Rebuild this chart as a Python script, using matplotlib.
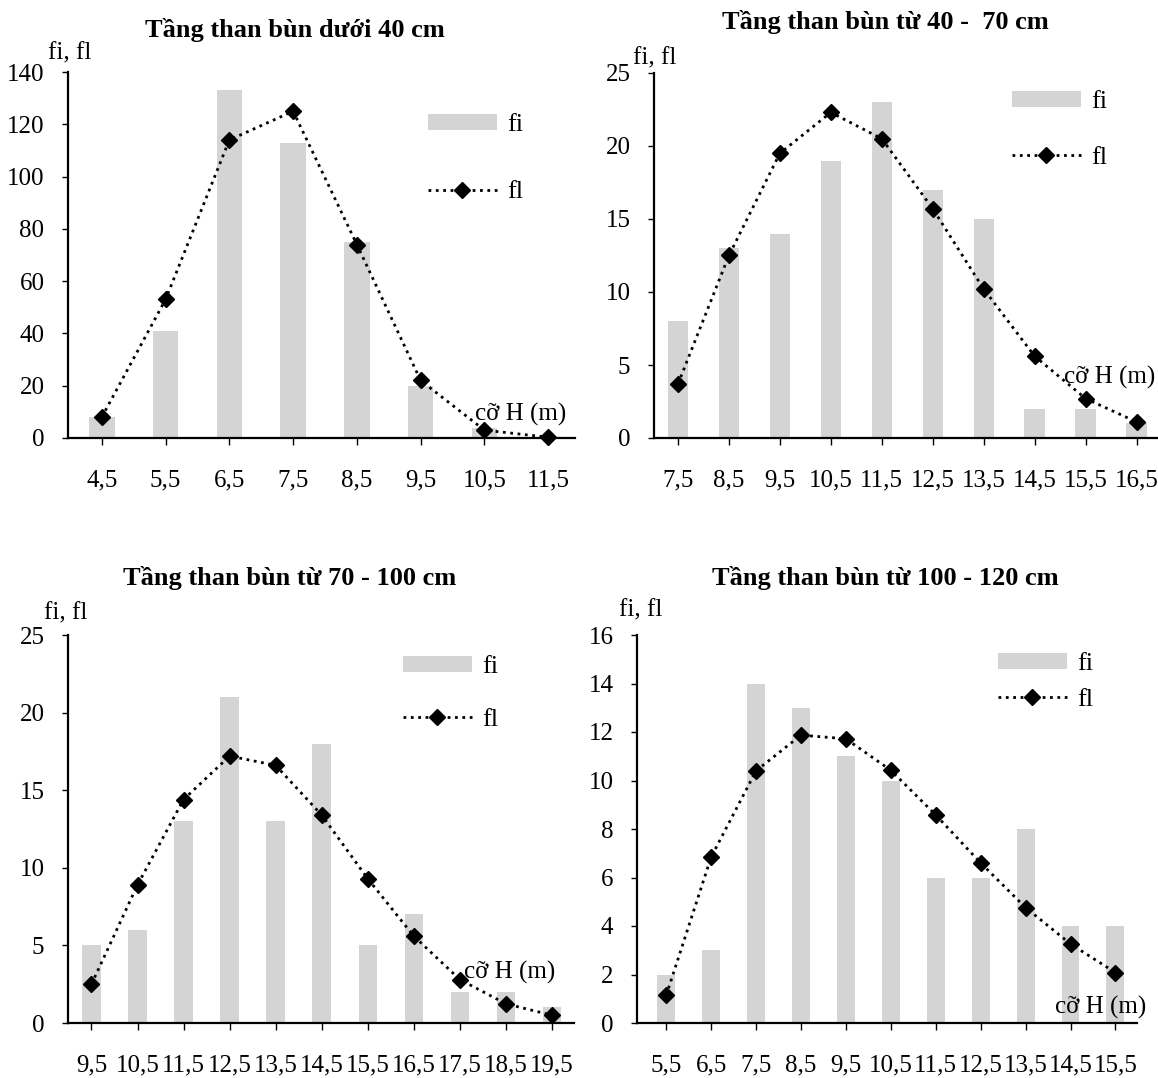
import matplotlib
matplotlib.use("Agg")
import matplotlib.pyplot as plt
from matplotlib.patches import Patch
from matplotlib.lines import Line2D

plt.rcParams['font.family'] = ['Liberation Serif', 'DejaVu Serif']

# ---- data ----
titles = ["Tầng than bùn dưới 40 cm", "Tầng than bùn từ 40 -  70 cm",
          "Tầng than bùn từ 70 - 100 cm", "Tầng than bùn từ 100 - 120 cm"]

cats1 = ["4,5", "5,5", "6,5", "7,5", "8,5", "9,5", "10,5", "11,5"]
fi1 = [8, 41, 133, 113, 75, 20, 4, 0]
fl1 = [8, 53, 114, 125, 74, 22, 3, 0.3]

cats2 = ["7,5", "8,5", "9,5", "10,5", "11,5", "12,5", "13,5", "14,5", "15,5", "16,5"]
fi2 = [8, 13, 14, 19, 23, 17, 15, 2, 2, 1]
fl2 = [3.7, 12.5, 19.5, 22.3, 20.5, 15.7, 10.2, 5.6, 2.7, 1.1]

cats3 = ["9,5", "10,5", "11,5", "12,5", "13,5", "14,5", "15,5", "16,5", "17,5", "18,5", "19,5"]
fi3 = [5, 6, 13, 21, 13, 18, 5, 7, 2, 2, 1]
fl3 = [2.5, 8.9, 14.4, 17.2, 16.6, 13.4, 9.3, 5.6, 2.8, 1.24, 0.5]

cats4 = ["5,5", "6,5", "7,5", "8,5", "9,5", "10,5", "11,5", "12,5", "13,5", "14,5", "15,5"]
fi4 = [2, 3, 14, 13, 11, 10, 6, 6, 8, 4, 4]
fl4 = [1.14, 6.84, 10.4, 11.87, 11.72, 10.42, 8.58, 6.6, 4.76, 3.26, 2.08]

yticks1 = [0, 20, 40, 60, 80, 100, 120, 140]
yticks2 = [0, 5, 10, 15, 20, 25]
yticks3 = [0, 5, 10, 15, 20, 25]
yticks4 = [0, 2, 4, 6, 8, 10, 12, 14, 16]

W, H = 1158, 1078
fig = plt.figure(figsize=(W / 100, H / 100), dpi=100)
fig.patch.set_facecolor('white')

BAR = '#d4d4d4'
FS = 18

def px(x0, y0, x1, y1):
    return [x0 / W, 1 - y1 / H, (x1 - x0) / W, (y1 - y0) / H]

panels = [
    dict(rect=px(68, 72, 575, 438), cats=cats1, fi=fi1, fl=fl1, yt=yticks1,
         xlim=(-0.53, 7.42), title=titles[0], tpos=(295, 30),
         leg=(428, 114, 1.7), cz=(566, 414), fifl=(70, 53)),
    dict(rect=px(654, 73, 1157, 438), cats=cats2, fi=fi2, fl=fl2, yt=yticks2,
         xlim=(-0.47, 9.4), title=titles[1], tpos=(885, 22),
         leg=(1012, 91, 1.25), cz=(1155, 377), fifl=(655, 58)),
    dict(rect=px(68, 635, 574, 1023), cats=cats3, fi=fi3, fl=fl3, yt=yticks3,
         xlim=(-0.51, 10.48), title=titles[2], tpos=(290, 578),
         leg=(403, 656, 1.15), cz=(555, 972), fifl=(66, 613)),
    dict(rect=px(637, 635, 1137, 1023), cats=cats4, fi=fi4, fl=fl4, yt=yticks4,
         xlim=(-0.65, 10.48), title=titles[3], tpos=(885, 578),
         leg=(998, 653, 0.5), cz=(1146, 1007), fifl=(641, 610)),
]

for p in panels:
    ax = fig.add_axes(p['rect'])
    n = len(p['cats'])
    xs = list(range(n))
    ax.bar(xs, p['fi'], width=0.4, color=BAR, zorder=1)
    ax.plot(xs, p['fl'], color='black', linestyle=':', linewidth=2,
            marker='D', markersize=8, zorder=3, clip_on=False)
    ax.set_xlim(*p['xlim'])
    ax.set_ylim(0, max(p['yt']))
    ax.set_yticks(p['yt'])
    ax.set_yticklabels([str(v) for v in p['yt']])
    ax.set_xticks(xs)
    ax.set_xticklabels(p['cats'])
    for s in ['top', 'right']:
        ax.spines[s].set_visible(False)
    for s in ['left', 'bottom']:
        ax.spines[s].set_linewidth(1.6)
        ax.spines[s].set_color('black')
    ax.tick_params(axis='x', length=5, width=1.0, pad=18, labelsize=FS, direction='out')
    ax.tick_params(axis='y', length=4, width=1.0, pad=13, labelsize=FS, direction='out')
    ax.set_facecolor('white')

    lx, ly, sp = p['leg']
    handles = [Patch(facecolor=BAR, edgecolor='none'),
               Line2D([0], [0], color='black', linestyle=':', linewidth=2,
                      marker='D', markersize=8)]
    fig.legend(handles, ['fi', 'fl'], loc='upper left',
               bbox_to_anchor=(lx / W, 1 - ly / H), bbox_transform=fig.transFigure,
               frameon=False, fontsize=FS + 1, handlelength=2.6, handleheight=0.55,
               handletextpad=0.4, labelspacing=sp, borderpad=0, borderaxespad=0)

    tx, ty = p['tpos']
    fig.text(tx / W, 1 - ty / H, p['title'], ha='center', va='center',
             fontsize=19, fontweight='bold')
    cx, cy = p['cz']
    fig.text(cx / W, 1 - cy / H, 'cỡ H (m)', ha='right', va='center', fontsize=FS)
    fx, fy = p['fifl']
    fig.text(fx / W, 1 - fy / H, 'fi, fl', ha='center', va='center', fontsize=FS)

fig.savefig('out.png', dpi=100, facecolor='white')
